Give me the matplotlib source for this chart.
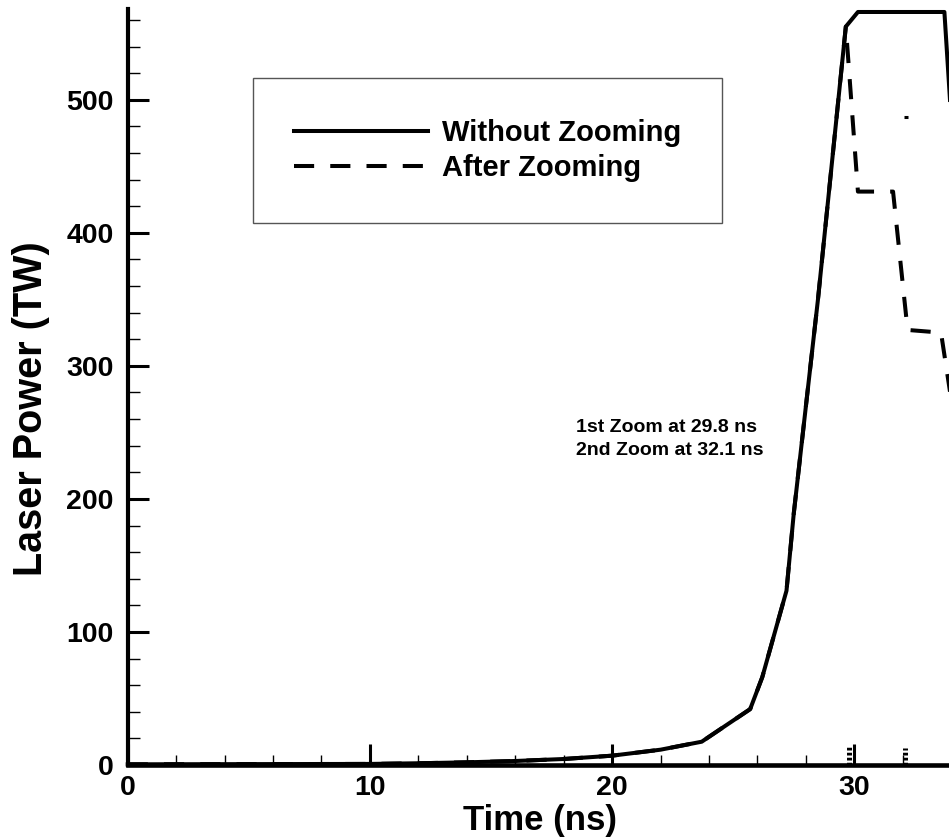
import matplotlib
matplotlib.use('Agg')
import matplotlib.pyplot as plt
from matplotlib.ticker import MultipleLocator

plt.rcParams['font.family'] = ['Liberation Sans', 'DejaVu Sans']
plt.rcParams['font.weight'] = 'bold'
plt.rcParams['axes.labelweight'] = 'bold'

# rise of the pulse, identical for both runs up to the first zoom
rise_t = [0, 10, 12, 14, 16, 18, 20, 22, 23.7, 25.7, 26.2, 27.2, 27.5, 28.5, 29.65]
rise_p = [0.5, 0.8, 1.3, 2, 3, 4.5, 7, 11.5, 17.5, 42, 66, 131, 189, 350, 555]

# what happens after the first zoom time
nozoom_t = [30.15, 33.72, 35.7]
nozoom_p = [566, 566, 0]
zoomed_t = [30.15, 31.6, 32.2, 33.58, 34.5]
zoomed_p = [431, 431, 327, 325, 215]

# zoom times marked on the time axis
zoom_times = [29.8, 32.1]
zoom_mark_h = [13.5, 12.5]
stray_t = [32.15]
stray_p = [487]

labels = ['Without Zooming', 'After Zooming']
note = '1st Zoom at 29.8 ns\n2nd Zoom at 32.1 ns'

fig = plt.figure(figsize=(9.49, 8.4), dpi=100)
ax = fig.add_axes([0.1346, 0.0893, 1 - 0.1346, 0.9889 - 0.0893])

ax.plot(rise_t + zoomed_t, rise_p + zoomed_p, color='black', lw=2.9,
        dashes=(5, 4), label=labels[1], clip_on=False)
ax.plot(rise_t + nozoom_t, rise_p + nozoom_p, color='black', lw=2.9,
        label=labels[0], clip_on=False)
ax.plot(stray_t, stray_p, ls='none', marker='_', ms=3.5, mew=2.2, color='black')
ax.vlines(zoom_times, 0, zoom_mark_h, colors='black', lw=3.6,
          linestyles=(0, (0.55, 0.45)))

ax.text(18.5, 245, note, fontsize=14, ha='left', va='center', linespacing=1.4)

handles, labs = ax.get_legend_handles_labels()
leg = ax.legend(handles[::-1], labs[::-1], loc='upper left',
                bbox_to_anchor=(252.7 / 949, 1 - 78 / 840),
                bbox_transform=fig.transFigure, borderaxespad=0,
                fontsize=21, handlelength=4.6, handletextpad=0.5,
                labelspacing=0.25, borderpad=1.4, fancybox=False,
                edgecolor='#555555', framealpha=1)
leg.get_frame().set_linewidth(1.0)

ax.set_xlim(0, 33.91)
ax.set_ylim(0, 568)
ax.xaxis.set_major_locator(MultipleLocator(10))
ax.xaxis.set_minor_locator(MultipleLocator(2))
ax.yaxis.set_major_locator(MultipleLocator(100))
ax.yaxis.set_minor_locator(MultipleLocator(20))
ax.tick_params(which='major', direction='in', length=15, width=2.2, labelsize=20.5)
ax.tick_params(axis='y', which='minor', direction='in', length=8.6, width=1)
ax.tick_params(axis='x', which='minor', direction='in', length=7, width=1)
ax.tick_params(axis='x', which='major', pad=7)
ax.tick_params(axis='y', which='major', pad=10)

ax.spines['top'].set_visible(False)
ax.spines['right'].set_visible(False)
ax.spines['left'].set_linewidth(3)
ax.spines['bottom'].set_linewidth(3.3)

ax.set_xlabel('Time (ns)', fontsize=25)
ax.xaxis.set_label_coords(0.569, 0.0429, transform=fig.transFigure)
ax.set_ylabel('Laser Power (TW)', fontsize=28.5)
ax.yaxis.set_label_coords(0.0527, 0.513, transform=fig.transFigure)

fig.savefig('out.png', dpi=100)
